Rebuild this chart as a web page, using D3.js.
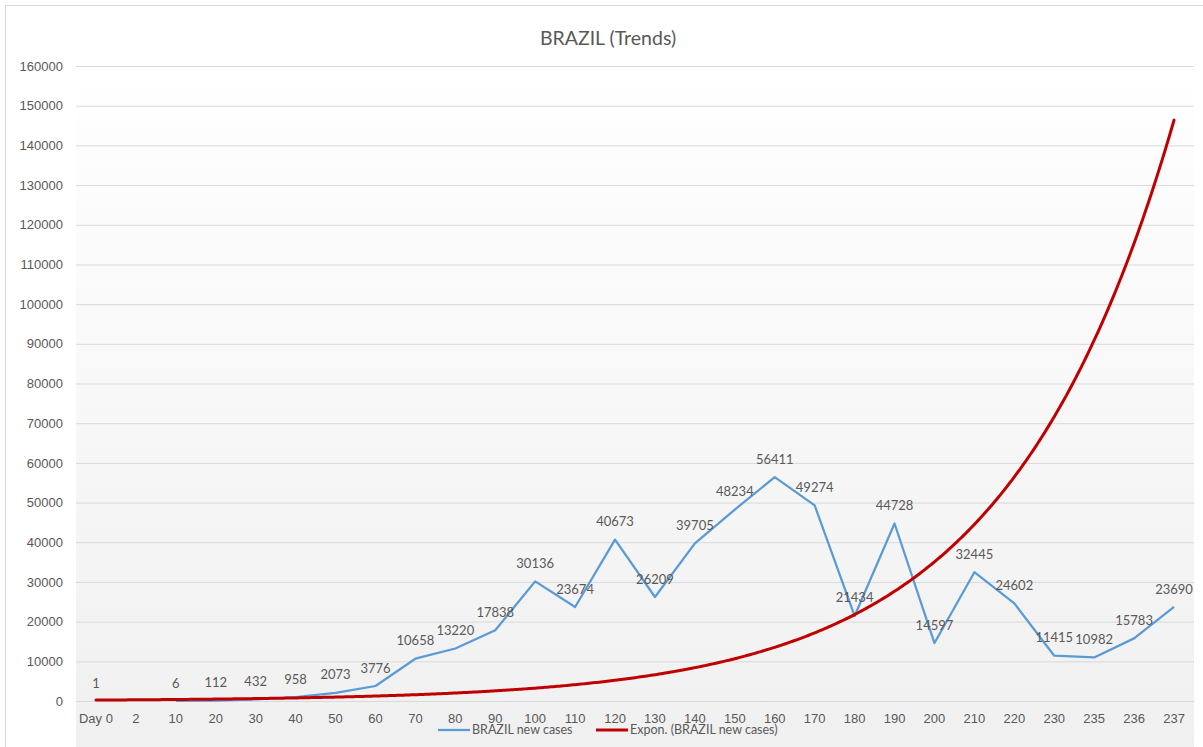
<!DOCTYPE html>
<html>
<head>
<meta charset="utf-8">
<script src="https://cdn.jsdelivr.net/npm/d3@7"></script>
<style>
  body { margin: 0; background: #fff; }
  svg { display: block; font-family: Lato, "Open Sans", sans-serif; }
</style>
</head>
<body>
<svg id="chart" width="1203" height="747"></svg>
<script>
// categorias del eje x
var categories = ["Day 0","2","10","20","30","40","50","60","70","80","90","100","110","120","130","140","150","160","170","180","190","200","210","220","230","235","236","237"];
// nuevos casos (el dia 2 no tiene valor)
var newCases = [1,null,6,112,432,958,2073,3776,10658,13220,17838,30136,23674,40673,26209,39705,48234,56411,49274,21434,44728,14597,32445,24602,11415,10982,15783,23690];
var yTicks = [0,10000,20000,30000,40000,50000,60000,70000,80000,90000,100000,110000,120000,130000,140000,150000,160000];
var seriesNames = ["BRAZIL new cases","Expon. (BRAZIL new cases)"];

var svg = d3.select("#chart");
var W = 1203, H = 747;
var plotLeft = 76, plotRight = 1194, plotTop = 66, plotBottom = 701;
var textColor = "#595959";

// borde del grafico
svg.append("rect").attr("x",5.5).attr("y",5.5).attr("width",1210).attr("height",760)
   .attr("fill","#fff").attr("stroke","#d9d9d9");

// fondo degradado
var grad = svg.append("defs").append("linearGradient").attr("id","bg")
   .attr("x1",0).attr("y1",0).attr("x2",0).attr("y2",1);
grad.append("stop").attr("offset","0%").attr("stop-color","#ffffff");
grad.append("stop").attr("offset","100%").attr("stop-color","#f0f0f0");
svg.append("rect").attr("x",plotLeft).attr("y",plotTop).attr("width",plotRight-plotLeft).attr("height",H-plotTop)
   .attr("fill","url(#bg)");

var x = d3.scaleBand().domain(categories).range([plotLeft,plotRight]);
var y = d3.scaleLinear().domain([0,160000]).range([plotBottom,plotTop]);
function cx(c){ return x(c) + x.bandwidth()/2; }

// lineas de la rejilla + etiquetas eje y
var yAxis = d3.axisLeft(y).tickValues(yTicks).tickSize(-(plotRight-plotLeft)).tickPadding(12).tickFormat(d3.format("d"));
var gy = svg.append("g").attr("transform","translate("+plotLeft+",0)").call(yAxis);
gy.select(".domain").remove();
gy.selectAll(".tick line").attr("stroke","#d9d9d9");
gy.selectAll(".tick text").attr("fill",textColor).attr("font-size",13).attr("x",-13);

// eje x
var xAxis = d3.axisBottom(x).tickSize(0).tickPadding(13);
var gx = svg.append("g").attr("transform","translate(0,"+plotBottom+")").call(xAxis);
gx.select(".domain").attr("stroke","#d9d9d9");
gx.selectAll(".tick text").attr("fill",textColor).attr("font-size",13);

// linea de tendencia exponencial (ajuste por minimos cuadrados sobre ln y)
var pts = [];
newCases.forEach(function(v,i){ if (v != null && v > 0) pts.push([i+1, Math.log(v)]); });
var mx = d3.mean(pts,function(p){return p[0];}), my = d3.mean(pts,function(p){return p[1];});
var sxy = d3.sum(pts,function(p){return (p[0]-mx)*(p[1]-my);});
var sxx = d3.sum(pts,function(p){return (p[0]-mx)*(p[0]-mx);});
var b = sxy/sxx, a = Math.exp(my - b*mx);
var xt = d3.scaleLinear().domain([1,categories.length]).range([cx(categories[0]), cx(categories[categories.length-1])]);
var trend = d3.range(1, categories.length + 0.001, 0.05).map(function(t){ return [t, a*Math.exp(b*t)]; });

// serie de casos
var line = d3.line()
   .defined(function(d){ return d != null; })
   .x(function(d,i){ return cx(categories[i]); })
   .y(function(d){ return y(d); });
svg.append("path").datum(newCases).attr("d",line)
   .attr("fill","none").attr("stroke","#5b9bd5").attr("stroke-width",2.25).attr("stroke-linejoin","round");

svg.append("path").datum(trend)
   .attr("d", d3.line().x(function(d){return xt(d[0]);}).y(function(d){return y(d[1]);}))
   .attr("fill","none").attr("stroke","#c00000").attr("stroke-width",3).attr("stroke-linecap","round");

// etiquetas de datos
svg.append("g").selectAll("text")
   .data(newCases.map(function(v,i){ return {v:v, c:categories[i]}; }).filter(function(d){ return d.v != null; }))
   .enter().append("text")
   .attr("x",function(d){ return cx(d.c); })
   .attr("y",function(d){ return y(d.v) - 18; })
   .attr("dy","0.35em")
   .attr("text-anchor","middle")
   .attr("font-size",13)
   .attr("fill",textColor)
   .text(function(d){ return d.v; });

// titulo
svg.append("text").attr("x",608).attr("y",38).attr("dy","0.35em").attr("text-anchor","middle")
   .attr("font-size",19.5).attr("fill",textColor).text("BRAZIL (Trends)");

// leyenda
var legend = svg.append("g").attr("font-size",12.5).attr("fill",textColor);
var lg = [{x:438, color:"#5b9bd5", w:2.25, name:seriesNames[0]},{x:596, color:"#c00000", w:3, name:seriesNames[1]}];
lg.forEach(function(l){
  legend.append("line").attr("x1",l.x).attr("x2",l.x+32).attr("y1",730).attr("y2",730)
     .attr("stroke",l.color).attr("stroke-width",l.w);
  legend.append("text").attr("x",l.x+34).attr("y",730).attr("dy","0.35em").text(l.name);
});
</script>
</body>
</html>
